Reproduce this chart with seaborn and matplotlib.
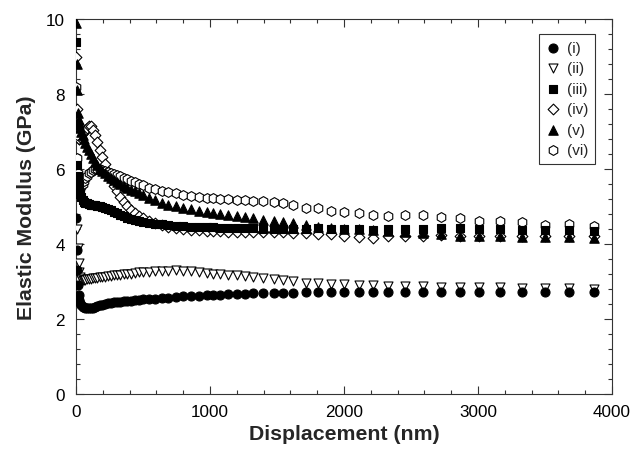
import numpy as np
import pandas as pd
import matplotlib
matplotlib.use("Agg")
import matplotlib.pyplot as plt
from matplotlib.ticker import MultipleLocator
import seaborn as sns

# displacement (nm), shared by all six indentation curves
displacement = [3, 6, 10, 15, 20, 26, 33, 41, 50, 60, 71, 83, 96, 110, 125, 141,
                158, 176, 195, 215, 236, 258, 281, 305, 330, 356, 383, 411, 440,
                470, 500, 545, 590, 640, 690, 745, 800, 860, 920, 975, 1025, 1075,
                1135, 1200, 1260, 1318, 1398, 1480, 1547, 1622, 1716, 1808, 1903,
                2002, 2112, 2219, 2331, 2455, 2587, 2722, 2866, 3010, 3164, 3326,
                3500, 3681, 3866]

# elastic modulus (GPa)
mod_i = [4.7, 3.85, 3.3, 2.9, 2.65, 2.5, 2.42, 2.37, 2.33, 2.31, 2.29, 2.28, 2.28,
         2.29, 2.3, 2.32, 2.34, 2.36, 2.38, 2.4, 2.42, 2.43, 2.44, 2.45, 2.46, 2.47,
         2.48, 2.49, 2.5, 2.51, 2.52, 2.53, 2.54, 2.56, 2.57, 2.58, 2.6, 2.61, 2.62,
         2.63, 2.64, 2.65, 2.66, 2.67, 2.67, 2.68, 2.69, 2.69, 2.7, 2.7, 2.71, 2.72,
         2.72, 2.72, 2.71, 2.72, 2.72, 2.71, 2.72, 2.72, 2.71, 2.72, 2.72, 2.72,
         2.71, 2.72, 2.72]
mod_ii = [7.5, 5.6, 4.4, 3.9, 3.5, 3.25, 3.12, 3.07, 3.05, 3.05, 3.05, 3.06, 3.06,
          3.07, 3.08, 3.09, 3.1, 3.11, 3.12, 3.13, 3.14, 3.15, 3.16, 3.17, 3.18,
          3.19, 3.2, 3.21, 3.22, 3.24, 3.25, 3.26, 3.27, 3.28, 3.29, 3.3, 3.29,
          3.27, 3.25, 3.23, 3.21, 3.2, 3.18, 3.16, 3.14, 3.12, 3.09, 3.06, 3.04,
          3.01, 2.97, 2.95, 2.93, 2.92, 2.91, 2.9, 2.89, 2.88, 2.87, 2.86, 2.85,
          2.85, 2.84, 2.83, 2.83, 2.82, 2.81]
mod_iii = [9.4, 7.2, 6.1, 5.8, 5.6, 5.45, 5.32, 5.24, 5.18, 5.13, 5.1, 5.08, 5.06,
           5.05, 5.04, 5.03, 5.02, 5.0, 4.98, 4.96, 4.93, 4.9, 4.86, 4.82, 4.78,
           4.74, 4.7, 4.67, 4.64, 4.61, 4.59, 4.56, 4.54, 4.52, 4.5, 4.48, 4.47,
           4.46, 4.45, 4.44, 4.44, 4.43, 4.43, 4.42, 4.42, 4.42, 4.41, 4.41, 4.41,
           4.4, 4.41, 4.42, 4.41, 4.4, 4.41, 4.38, 4.4, 4.4, 4.41, 4.42, 4.43, 4.41,
           4.39, 4.37, 4.36, 4.36, 4.35]
mod_iv = [9.0, 7.6, 7.2, 6.9, 6.8, 6.8, 6.85, 6.9, 6.95, 7.0, 7.05, 7.1, 7.15,
          7.15, 7.05, 6.9, 6.72, 6.52, 6.32, 6.12, 5.92, 5.73, 5.55, 5.4, 5.25,
          5.12, 5.0, 4.9, 4.82, 4.75, 4.7, 4.62, 4.56, 4.5, 4.46, 4.43, 4.4, 4.38,
          4.36, 4.35, 4.34, 4.34, 4.33, 4.33, 4.32, 4.32, 4.32, 4.31, 4.31, 4.3,
          4.28, 4.27, 4.26, 4.22, 4.18, 4.15, 4.2, 4.22, 4.2, 4.24, 4.2, 4.22, 4.2,
          4.22, 4.2, 4.21, 4.2]
mod_v = [9.9, 8.8, 8.1, 7.5, 7.3, 7.2, 7.1, 7.0, 6.9, 6.8, 6.7, 6.6, 6.5, 6.4,
         6.3, 6.2, 6.1, 6.0, 5.95, 5.9, 5.82, 5.76, 5.7, 5.65, 5.6, 5.55, 5.5,
         5.45, 5.4, 5.35, 5.3, 5.22, 5.16, 5.1, 5.05, 5.0, 4.96, 4.92, 4.89, 4.86,
         4.83, 4.8, 4.77, 4.74, 4.71, 4.68, 4.65, 4.62, 4.59, 4.55, 4.5, 4.46,
         4.43, 4.41, 4.39, 4.37, 4.35, 4.33, 4.3, 4.27, 4.22, 4.2, 4.2, 4.19,
         4.19, 4.18, 4.17]
mod_vi = [8.2, 6.9, 6.3, 5.9, 5.6, 5.5, 5.5, 5.55, 5.6, 5.68, 5.75, 5.82, 5.88,
          5.93, 5.97, 6.0, 6.0, 5.99, 5.97, 5.95, 5.93, 5.9, 5.87, 5.84, 5.8, 5.76,
          5.72, 5.68, 5.64, 5.6, 5.56, 5.5, 5.46, 5.42, 5.38, 5.35, 5.3, 5.27,
          5.25, 5.23, 5.22, 5.21, 5.19, 5.17, 5.16, 5.15, 5.14, 5.12, 5.1, 5.04,
          4.97, 4.95, 4.88, 4.85, 4.83, 4.78, 4.75, 4.76, 4.76, 4.72, 4.68, 4.62,
          4.6, 4.58, 4.5, 4.52, 4.47]

labels = ["(i)", "(ii)", "(iii)", "(iv)", "(v)", "(vi)"]
series = [mod_i, mod_ii, mod_iii, mod_iv, mod_v, mod_vi]
markers = ["o", "v", "s", "D", "^", "h"]
filled = [True, False, True, False, True, False]
sizes = [42, 42, 36, 30, 46, 50]
# filled symbols sit over the open ones; squares cover the (v) triangles
layer = [6, 3, 5, 3, 4, 3]

sns.set_style("ticks")
plt.rcParams["font.family"] = ["Liberation Sans", "DejaVu Sans"]

fig, ax = plt.subplots(figsize=(6.33, 4.56), dpi=100)
fig.subplots_adjust(left=0.12, right=0.967, top=0.956, bottom=0.134)

for lab, vals, mk, fl, sz, z in zip(labels, series, markers, filled, sizes, layer):
    df = pd.DataFrame({"Displacement": displacement, "Modulus": vals})
    sns.scatterplot(data=df, x="Displacement", y="Modulus", ax=ax, label=lab,
                    marker=mk, s=sz, facecolor="black" if fl else "white",
                    edgecolor="black", linewidth=0.8, zorder=z)

ax.set_xlim(0, 4000)
ax.set_ylim(0, 10)
ax.xaxis.set_major_locator(MultipleLocator(1000))
ax.xaxis.set_minor_locator(MultipleLocator(200))
ax.yaxis.set_major_locator(MultipleLocator(2))
ax.yaxis.set_minor_locator(MultipleLocator(0.4))
ax.tick_params(which="both", direction="in", top=True, right=True,
               colors="#333333", labelcolor="black", labelsize=12.3)
ax.tick_params(which="major", length=6, width=0.8)
ax.tick_params(which="minor", length=3, width=0.8)
ax.tick_params(axis="x", pad=7)
ax.tick_params(axis="y", pad=8)
for sp in ax.spines.values():
    sp.set_color("#333333")
    sp.set_linewidth(0.8)

ax.set_xlabel("Displacement (nm)", fontsize=15.3, fontweight="bold", labelpad=4)
ax.set_ylabel("Elastic Modulus (GPa)", fontsize=15.3, fontweight="bold", labelpad=7)

leg = ax.legend(loc="upper right", bbox_to_anchor=(0.968, 0.96), fontsize=11,
                frameon=True, fancybox=False, edgecolor="black",
                handlelength=0.9, handletextpad=0.45, labelspacing=0.42,
                borderpad=0.45, borderaxespad=0.0)
leg.get_frame().set_linewidth(0.8)

fig.savefig("out.png", dpi=100)
